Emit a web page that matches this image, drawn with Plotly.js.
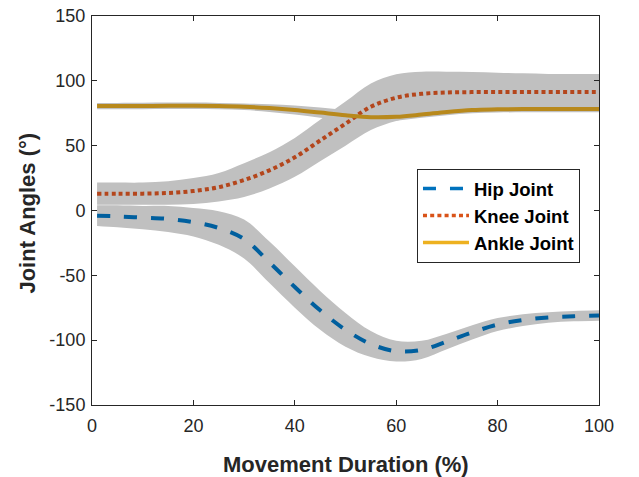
<!DOCTYPE html>
<html>
<head>
<meta charset="utf-8">
<script src="https://cdn.plot.ly/plotly-3.0.1.min.js"></script>
<style>html,body{margin:0;padding:0;background:#fff;}#chart{width:639px;height:477px;}</style>
</head>
<body>
<div id="chart"></div>
<script>
// Movement duration (%)
var duration = [1, 5, 10, 15, 20, 25, 30, 35, 40, 45, 50, 55, 60, 65, 70, 75, 80, 85, 90, 95, 100];

// Mean joint angles (deg)
var hipMean   = [-4, -4.5, -5.5, -6.5, -9, -13.5, -22, -40, -59, -77, -92, -103, -108.5, -107.5, -101, -94, -88, -84.5, -82.5, -81.5, -81];
var kneeMean  = [13, 13, 13, 13.5, 15, 18, 23.5, 31, 41, 54, 67, 80, 87, 90, 91, 91.3, 91.3, 91.3, 91.3, 91.3, 91.3];
var ankleMean = [80.5, 80.5, 80.6, 80.7, 80.7, 80.5, 80, 79, 77.5, 75.5, 73.5, 72, 72.3, 74, 76, 77.5, 78, 78.3, 78.3, 78.2, 78.2];

// Standard deviation (band half-width, deg)
var hipSD   = [8, 8.5, 9, 10, 11, 13, 15, 16, 16, 15, 13, 10, 8, 7, 6, 5.5, 5, 4.5, 4, 4, 4];
var kneeSD  = [8.5, 8.5, 8.5, 9, 10, 11, 13, 14, 15, 16, 17, 18, 18, 17, 16, 15.5, 15, 14.5, 14, 14, 14];
var ankleSD = [2.5, 2.5, 2.5, 2.5, 2.5, 2.5, 2.5, 3, 3.5, 4, 4, 3.5, 3, 2.5, 2.5, 2.5, 2.5, 2.5, 2.5, 2.5, 2.5];

var seriesNames = ['Hip Joint', 'Knee Joint', 'Ankle Joint'];
var yTickVals = [-150, -100, -50, 0, 50, 100, 150];
var yTickLabels = ['-150', '-100', '-50', '0', '50', '100', '150'];
var xTickVals = [0, 20, 40, 60, 80, 100];
var xTickLabels = ['0', '20', '40', '60', '80', '100'];

var means = [hipMean, kneeMean, ankleMean];
var sds = [hipSD, kneeSD, ankleSD];
var plotColors = ['#005f9e', '#b4461c', '#b8891c'];
var legendColors = ['#0072BD', '#D95319', '#EDB120'];
var dashes = ['13px,14px', '4px,3.2px', 'solid'];
var bandColor = '#c0c0c0';

var traces = [];
// bands
for (var s = 0; s < 3; s++) {
  var lo = means[s].map(function (v, i) { return v - sds[s][i]; });
  var hi = means[s].map(function (v, i) { return v + sds[s][i]; });
  traces.push({x: duration, y: lo, mode: 'lines', line: {width: 0, shape: 'spline', color: bandColor}, showlegend: false, hoverinfo: 'skip'});
  traces.push({x: duration, y: hi, mode: 'lines', line: {width: 0, shape: 'spline', color: bandColor}, fill: 'tonexty', fillcolor: bandColor, showlegend: false, hoverinfo: 'skip'});
}
// mean lines
for (var s2 = 0; s2 < 3; s2++) {
  traces.push({x: duration, y: means[s2], mode: 'lines', name: seriesNames[s2],
    line: {color: plotColors[s2], width: 4, dash: dashes[s2], shape: 'spline'}, showlegend: false});
}
// legend entries
for (var s3 = 0; s3 < 3; s3++) {
  traces.push({x: [null], y: [null], mode: 'lines', name: seriesNames[s3],
    line: {color: legendColors[s3], width: 3.5, dash: dashes[s3]}, showlegend: true});
}

var fontFam = '"Liberation Sans", Arial, Helvetica, sans-serif';
var axisCommon = {
  showgrid: false, zeroline: false, showline: true, linecolor: '#262626', linewidth: 1,
  mirror: 'allticks', ticks: 'inside', ticklen: 5, tickcolor: '#262626', tickwidth: 1,
  tickfont: {family: fontFam, size: 18, color: '#262626'}, tickmode: 'array'
};

var layout = {
  width: 639, height: 477,
  margin: {l: 92, r: 40, t: 16, b: 72},
  paper_bgcolor: '#ffffff', plot_bgcolor: '#ffffff',
  showlegend: true,
  xaxis: Object.assign({}, axisCommon, {range: [0, 100], tickvals: xTickVals, ticktext: xTickLabels, ticklabelstandoff: 4}),
  yaxis: Object.assign({}, axisCommon, {range: [-150, 150], tickvals: yTickVals, ticktext: yTickLabels, ticklabelstandoff: 2}),
  legend: {
    x: 0.641, y: 0.607, xanchor: 'left', yanchor: 'top', traceorder: 'normal',
    bgcolor: '#ffffff', bordercolor: '#262626', borderwidth: 1,
    font: {family: fontFam, size: 18.5, color: '#000000', weight: 'bold'},
    itemwidth: 46, tracegroupgap: 0
  },
  annotations: [
    {text: '<b>Movement Duration (%)</b>', xref: 'paper', yref: 'paper', x: 0.5, y: -0.152, xanchor: 'center', yanchor: 'middle',
     showarrow: false, font: {family: fontFam, size: 22, color: '#262626'}},
    {text: '<b>Joint Angles (°)</b>', xref: 'paper', yref: 'paper', x: -0.128, y: 0.4923, xanchor: 'center', yanchor: 'middle',
     textangle: -90, showarrow: false, font: {family: fontFam, size: 22, color: '#262626'}}
  ]
};

Plotly.newPlot('chart', traces, layout, {displayModeBar: false, staticPlot: true});
</script>
</body>
</html>
